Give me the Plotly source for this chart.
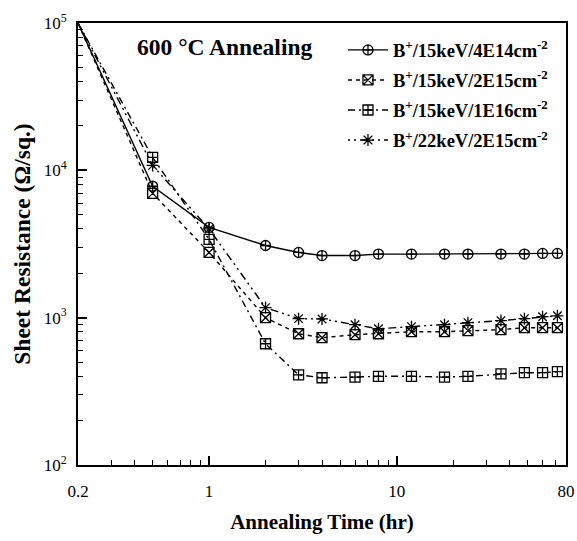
import plotly.graph_objects as go

# Annealing time (hr)
time_hr = [0.2, 0.5, 1, 2, 3, 4, 6, 8, 12, 18, 24, 36, 48, 60, 72]

# Sheet resistance (ohm/sq) per implant condition
rs_15kev_4e14 = [100000, 7800, 4100, 3090, 2770, 2640, 2640, 2700, 2700, 2700, 2700, 2700, 2700, 2730, 2730]
rs_15kev_2e15 = [100000, 6980, 2770, 1000, 778, 731, 766, 778, 803, 803, 817, 829, 855, 855, 855]
rs_15kev_1e16 = [100000, 12250, 3400, 665, 409, 391, 395, 400, 400, 395, 400, 416, 423, 423, 430]
rs_22kev_2e15 = [100000, 10800, 4000, 1170, 985, 980, 896, 841, 869, 896, 925, 955, 985, 1015, 1030]

series_names = [
    "<b>B<sup>+</sup>/15keV/4E14cm<sup>-2</sup></b>",
    "<b>B<sup>+</sup>/15keV/2E15cm<sup>-2</sup></b>",
    "<b>B<sup>+</sup>/15keV/1E16cm<sup>-2</sup></b>",
    "<b>B<sup>+</sup>/22keV/2E15cm<sup>-2</sup></b>",
]

x_tick_vals = [0.2, 1, 10, 80]
x_tick_text = ["0.2", "1", "10", "80"]
y_tick_vals = [100, 1000, 10000, 100000]
y_tick_text = ["10<sup>2</sup>", "10<sup>3</sup>", "10<sup>4</sup>", "10<sup>5</sup>"]

x_minor = [0.3, 0.4, 0.5, 0.6, 0.7, 0.8, 0.9] + [k for k in range(2, 10)] + [k * 10 for k in range(2, 8)]
y_minor = [k * 10 ** n for n in range(2, 5) for k in range(2, 10)]

serif = "Liberation Serif, Times New Roman, serif"

styles = [
    dict(symbol="circle-cross-open", dash="solid"),
    dict(symbol="square-x-open", dash="4px,4px"),
    dict(symbol="square-cross-open", dash="7px,4px,2px,4px"),
    dict(symbol="asterisk-open", dash="2px,4px,2px,4px,8px,4px"),
]
all_rs = [rs_15kev_4e14, rs_15kev_2e15, rs_15kev_1e16, rs_22kev_2e15]

fig = go.Figure()
for i, (name, ys, st) in enumerate(zip(series_names, all_rs, styles)):
    fig.add_trace(go.Scatter(
        x=time_hr, y=ys, name=name, mode="lines+markers",
        legendgroup=f"g{i}",
        line=dict(color="black", width=1.4, dash=st["dash"]),
        marker=dict(symbol=st["symbol"], size=10, color="black",
                    line=dict(color="black", width=1.3)),
        cliponaxis=False,
    ))

fig.add_annotation(
    text="<b>600 °C Annealing</b>", xref="paper", yref="paper",
    x=0.117, y=0.946, xanchor="left", yanchor="middle", showarrow=False,
    font=dict(family=serif, size=23.5, color="black"),
)

fig.update_xaxes(
    type="log", range=[-0.69897, 1.90309], automargin=False,
    tickmode="array", tickvals=x_tick_vals, ticktext=x_tick_text,
    ticks="inside", ticklen=9, tickwidth=1.5, tickcolor="black",
    ticklabelstandoff=10, ticklabeloverflow="allow",
    showline=True, linecolor="black", linewidth=2, mirror=True,
    showgrid=False, zeroline=False,
    tickfont=dict(family=serif, size=17, color="black"),
    minor=dict(tickmode="array", tickvals=x_minor, ticks="inside", ticklen=5,
               tickwidth=1.2, tickcolor="black", showgrid=False),
    title=dict(text="<b>Annealing Time (hr)</b>",
               font=dict(family=serif, size=21, color="black"), standoff=14),
)
fig.update_yaxes(
    type="log", range=[2, 5], automargin=False,
    tickmode="array", tickvals=y_tick_vals, ticktext=y_tick_text,
    ticks="inside", ticklen=9, tickwidth=1.5, tickcolor="black",
    ticklabelstandoff=6,
    showline=True, linecolor="black", linewidth=2, mirror=True,
    showgrid=False, zeroline=False,
    tickfont=dict(family=serif, size=17, color="black"),
    minor=dict(tickmode="array", tickvals=y_minor, ticks="inside", ticklen=5,
               tickwidth=1.2, tickcolor="black", showgrid=False),
    title=dict(text="<b>Sheet Resistance (Ω/sq.)</b>",
               font=dict(family=serif, size=23.5, color="black"), standoff=6),
)

fig.update_layout(
    width=577, height=541,
    margin=dict(l=78, r=11, t=23, b=76),
    paper_bgcolor="white", plot_bgcolor="white",
    legend=dict(
        x=0.543, y=0.981, xanchor="left", yanchor="top",
        bgcolor="rgba(0,0,0,0)", borderwidth=0,
        font=dict(family=serif, size=18.5, color="black"),
        tracegroupgap=3, itemwidth=40,
    ),
)

fig.write_html("out.html",
               config={"displayModeBar": False},
               post_script="document.body.style.margin='0';document.body.style.overflow='hidden';")
